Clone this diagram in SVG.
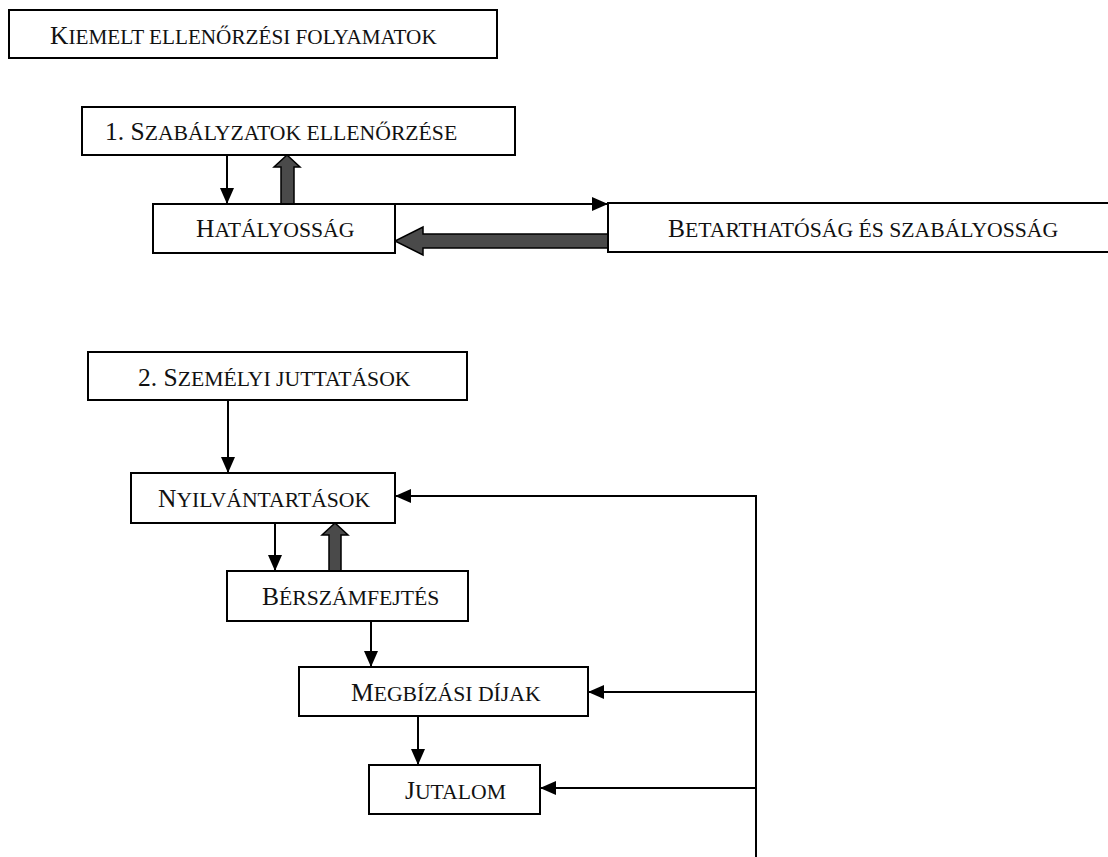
<svg xmlns="http://www.w3.org/2000/svg" width="1108" height="857" viewBox="0 0 1108 857">
<style>
.box{fill:#fff;stroke:#000;stroke-width:2}
.t{font-family:"Liberation Serif","Times New Roman",serif;font-size:25.5px;fill:#111}
.sc{font-size:21.7px}
.tsc{font-size:21.2px}
.ln{fill:none;stroke:#000;stroke-width:2}
.arr{marker-end:url(#ah)}
.thick{fill:#4a4a4a;stroke:#000;stroke-width:1.5}
</style>
<defs>
<marker id="ah" viewBox="0 0 16 14" refX="16" refY="7" markerWidth="16" markerHeight="14" markerUnits="userSpaceOnUse" orient="auto">
<path d="M0,0 L16,7 L0,14 z" fill="#000"/>
</marker>
</defs>
<rect width="1108" height="857" fill="#fff"/>

<g id="connectors">
<line class="ln arr" x1="227" y1="155" x2="227" y2="204"/>
<polygon class="thick" points="281,204 281,167 274,167 287,155 300,167 294,167 294,204"/>
<line class="ln arr" x1="395" y1="204" x2="608" y2="204"/>
<polygon class="thick" points="608,234 423,234 423,227 395,241 423,255 423,248 608,248"/>
<line class="ln arr" x1="228" y1="400" x2="228" y2="473"/>
<line class="ln arr" x1="275" y1="523" x2="275" y2="571"/>
<polygon class="thick" points="329,571 329,535 322,535 335,523 348,535 341,535 341,571"/>
<line class="ln arr" x1="371" y1="621" x2="371" y2="667"/>
<line class="ln arr" x1="418" y1="716" x2="418" y2="765"/>
<line class="ln" x1="756" y1="495" x2="756" y2="857"/>
<line class="ln arr" x1="756" y1="496" x2="395" y2="496"/>
<line class="ln arr" x1="756" y1="692" x2="588" y2="692"/>
<line class="ln arr" x1="756" y1="788" x2="540" y2="788"/>
</g>

<g id="title">
<rect class="box" x="9" y="10" width="488" height="48"/>
<text class="t" x="50" y="44">K<tspan class="tsc">IEMELT ELLENŐRZÉSI FOLYAMATOK</tspan></text>
</g>
<g id="szabalyzatok">
<rect class="box" x="82" y="107" width="433" height="48"/>
<text class="t" x="105" y="140">1. S<tspan class="sc">ZABÁLYZATOK ELLENŐRZÉSE</tspan></text>
</g>
<g id="hatalyossag">
<rect class="box" x="153" y="204" width="242" height="49"/>
<text class="t" x="196" y="237">H<tspan class="sc">ATÁLYOSSÁG</tspan></text>
</g>
<g id="betarthatosag">
<rect class="box" x="608" y="203" width="520" height="49"/>
<text class="t" x="668" y="237">B<tspan class="sc">ETARTHATÓSÁG ÉS SZABÁLYOSSÁG</tspan></text>
</g>
<g id="szemelyi">
<rect class="box" x="88" y="352" width="379" height="48"/>
<text class="t" x="138" y="386">2. S<tspan class="sc">ZEMÉLYI JUTTATÁSOK</tspan></text>
</g>
<g id="nyilvantartasok">
<rect class="box" x="131" y="473" width="264" height="50"/>
<text class="t" x="158" y="507">N<tspan class="sc">YILVÁNTARTÁSOK</tspan></text>
</g>
<g id="berszamfejtes">
<rect class="box" x="227" y="571" width="241" height="50"/>
<text class="t" x="262" y="605">B<tspan class="sc">ÉRSZÁMFEJTÉS</tspan></text>
</g>
<g id="megbizasi">
<rect class="box" x="299" y="667" width="289" height="49"/>
<text class="t" x="351" y="701">M<tspan class="sc">EGBÍZÁSI DÍJAK</tspan></text>
</g>
<g id="jutalom">
<rect class="box" x="369" y="765" width="171" height="49"/>
<text class="t" x="405" y="799">J<tspan class="sc">UTALOM</tspan></text>
</g>
</svg>
